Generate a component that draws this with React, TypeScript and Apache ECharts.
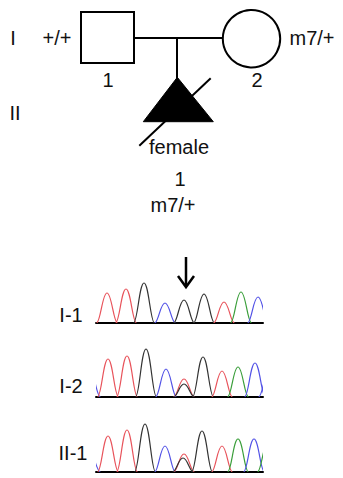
import React, { useEffect, useRef } from "react";
import * as echarts from "echarts";

// Base calls (ABI colours: T red, G black, C blue, A green)
const i1Bases = ["T", "T", "G", "C", "G", "G", "T", "A", "C"];
const i1Pos = [11, 30, 48, 69, 88, 108, 128, 145, 162];
const i1Height = [30, 34, 40, 20, 23, 29, 21, 31, 26];

const i2Bases = ["C", "T", "T", "G", "C", "T", "G", "G", "T", "A", "C", "C"];
const i2Pos = [-6, 12, 31, 50, 70, 88, 88, 107, 126, 142, 159, 173];
const i2Height = [25, 38, 41, 48, 28, 18, 13, 40, 26, 30, 34, 25];

const ii1Bases = ["C", "T", "T", "G", "C", "T", "G", "G", "T", "A", "C", "A"];
const ii1Pos = [-6, 12, 31, 49, 69, 88, 87, 106, 126, 142, 158, 172];
const ii1Height = [18, 36, 42, 48, 26, 18, 14, 41, 26, 33, 33, 30];

const traceLabels = ["I-1", "I-2", "II-1"];

const baseColor: Record<string, string> = {
  T: "#e8535b",
  G: "#333333",
  C: "#5252e6",
  A: "#3a9e3a",
};

const FONT = '20px "Liberation Sans", Arial, sans-serif';

export default function App() {
  const ref = useRef<HTMLDivElement>(null);
  useEffect(() => {
    if (!ref.current) return;
    const chart = echarts.init(ref.current, null, { renderer: "svg" });

    const traces = [
      { bases: i1Bases, pos: i1Pos, h: i1Height, top: 273, labelY: 315 },
      { bases: i2Bases, pos: i2Pos, h: i2Height, top: 347, labelY: 386 },
      { bases: ii1Bases, pos: ii1Pos, h: ii1Height, top: 422, labelY: 453 },
    ];

    const HW = 10.5;
    const makeRender = (bases: string[]) => (params: any, api: any) => {
      const c = api.value(0);
      const h = api.value(1);
      const L = api.coord([c - HW, 0]);
      const T = api.coord([c, h]);
      const R = api.coord([c + HW, 0]);
      const w = T[0] - L[0];
      const d =
        `M${L[0]},${L[1]} C${L[0] + 0.38 * w},${L[1]} ${T[0] - 0.45 * w},${T[1]} ${T[0]},${T[1]} ` +
        `C${T[0] + 0.45 * w},${T[1]} ${R[0] - 0.38 * w},${R[1]} ${R[0]},${R[1]}`;
      return {
        type: "path",
        shape: { pathData: d },
        style: { fill: "none", stroke: baseColor[bases[params.dataIndex]], lineWidth: 1.2 },
      };
    };

    const grid: any[] = [];
    const xAxis: any[] = [];
    const yAxis: any[] = [];
    const series: any[] = [];
    traces.forEach((t, i) => {
      grid.push({ left: 96, width: 167, top: t.top, height: 50 });
      xAxis.push({
        type: "value",
        gridIndex: i,
        min: 0,
        max: 167,
        axisLine: { show: true, onZero: false, lineStyle: { color: "#000", width: 2 } },
        axisTick: { show: false },
        axisLabel: { show: false },
        splitLine: { show: false },
      });
      yAxis.push({
        type: "value",
        gridIndex: i,
        min: 0,
        max: 50,
        show: false,
      });
      series.push({
        type: "custom",
        xAxisIndex: i,
        yAxisIndex: i,
        clip: true,
        data: t.pos.map((p, k) => [p, t.h[k]]),
        renderItem: makeRender(t.bases),
      });
    });

    const txt = (text: string, x: number, y: number) => ({
      type: "text",
      style: {
        text,
        x,
        y,
        font: FONT,
        fill: "#111",
        textAlign: "center",
        textVerticalAlign: "middle",
        align: "center",
        verticalAlign: "middle",
      },
    });

    const stroke = { stroke: "#000", lineWidth: 2, fill: "none" };

    const graphic: any[] = [
      // generation labels
      txt("I", 13, 38),
      txt("II", 15, 113),
      // genotypes & numbers
      txt("+/+", 57, 38),
      txt("1", 108, 80),
      txt("2", 257, 80),
      txt("m7/+", 312, 38),
      txt("female", 179, 147),
      txt("1", 180, 179),
      txt("m7/+", 173, 205),
      // male square
      { type: "rect", shape: { x: 81, y: 12, width: 53, height: 51 }, style: stroke },
      // female circle
      { type: "circle", shape: { cx: 251.5, cy: 38.7, r: 28.7 }, style: stroke },
      // mating line
      { type: "line", shape: { x1: 134, y1: 38, x2: 223, y2: 38 }, style: stroke },
      // descent line
      { type: "line", shape: { x1: 177, y1: 38, x2: 177, y2: 80 }, style: stroke },
      // affected pregnancy loss (triangle)
      {
        type: "polygon",
        shape: { points: [[177.3, 77.3], [143.3, 121.7], [213.3, 121.7]] },
        style: { fill: "#000", stroke: "#000", lineWidth: 1 },
      },
      // deceased slash
      { type: "line", shape: { x1: 139.3, y1: 145.7, x2: 210.7, y2: 78.3 }, style: stroke },
      // arrow
      { type: "line", shape: { x1: 186, y1: 257, x2: 186, y2: 286 }, style: { stroke: "#000", lineWidth: 2.5 } },
      {
        type: "polyline",
        shape: { points: [[178, 276], [186, 287], [194, 276]] },
        style: { stroke: "#000", lineWidth: 2.5, fill: "none" },
      },
      // trace labels
      ...traces.map((t, i) => txt(traceLabels[i], i === 2 ? 73 : 71, t.labelY)),
    ];

    chart.setOption({
      animation: false,
      backgroundColor: "#fff",
      grid,
      xAxis,
      yAxis,
      series,
      graphic,
    });
    return () => chart.dispose();
  }, []);
  return (
    <div
      ref={ref}
      style={{ position: "absolute", left: 0, top: 0, width: 343, height: 478 }}
    />
  );
}
